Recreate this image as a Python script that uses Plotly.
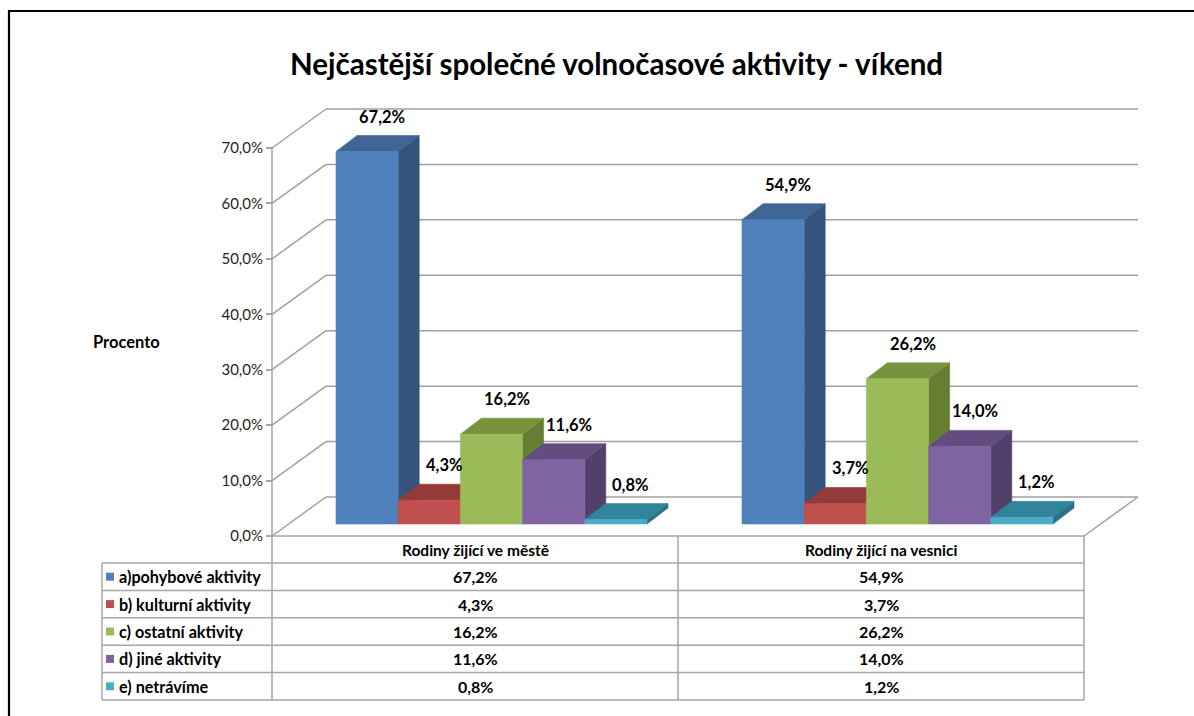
import plotly.graph_objects as go

# ---------------- data ----------------
title = "Nejčastější společné volnočasové aktivity - víkend"
categories = ["Rodiny žijící ve městě", "Rodiny žijící na vesnici"]
series_names = ["a)pohybové aktivity", "b) kulturní aktivity", "c) ostatní aktivity",
                "d) jiné aktivity", "e) netrávíme"]
city_values = [67.2, 4.3, 16.2, 11.6, 0.8]
village_values = [54.9, 3.7, 26.2, 14.0, 1.2]
y_ticks = [0, 10, 20, 30, 40, 50, 60, 70]
y_axis_title = "Procento"

values_by_cat = [city_values, village_values]


def pct(x):
    return f"{x:.1f}%".replace(".", ",")


# ---------------- styles ----------------
front_colors = ["#4F81BD", "#C0504D", "#9BBB59", "#8064A2", "#4BACC6"]
top_colors = ["#3E6594", "#943A38", "#77933C", "#634C80", "#31849B"]
side_colors = ["#34547D", "#7E302E", "#657E33", "#52406B", "#2B7185"]
grid_color = "#A0A0A0"
table_color = "#A6A6A6"
FONT = "Lato"

W, H = 1194, 716
X0, CW = 272.0, 406.0      # pixel x of axis, pixels per category
Y0, S = 536.0, 5.543       # pixel y of 0 %, pixels per percent


def u(px):
    return (px - X0) / CW


def v(py):
    return (Y0 - py) / S


WU, WV = 54 / CW, 39 / S          # wall depth
FU, FV = 16 / CW, 12 / S          # bar front offset
DU, DV = 21 / CW, 16 / S          # bar depth
BW = 62.2 / CW                    # bar width
G0 = 48 / CW                      # gap before first bar

fig = go.Figure()
shapes = []
annotations = []


def line(x0, y0, x1, y1, color, width=1.0):
    shapes.append(dict(type="line", xref="x", yref="y", x0=x0, y0=y0, x1=x1, y1=y1,
                       line=dict(color=color, width=width), layer="below"))


# back wall gridlines + diagonals
n_cat = len(categories)
for t in y_ticks:
    line(0, t, WU, t + WV, grid_color, 1.5)
    line(WU, t + WV, n_cat + WU, t + WV, grid_color, 1.5)
# floor right edge
line(n_cat, 0, n_cat + WU, WV, grid_color, 1.5)

# table geometry
row_edges_px = [563, 590.4, 617.8, 645.2, 672.6, 700]
leg_left = u(102)
table_bottom = v(row_edges_px[-1])
line(0, 0, n_cat, 0, table_color, 1.5)
line(0, table_bottom, 0, max(y_ticks), table_color, 1.5)
for i in range(1, n_cat + 1):
    line(i, 0, i, table_bottom, table_color, 1.5)
line(leg_left, v(row_edges_px[0]), leg_left, table_bottom, table_color, 1.5)
for py in row_edges_px:
    line(leg_left, v(py), n_cat, v(py), table_color, 1.5)


def poly(xs, ys, color):
    fig.add_trace(go.Scatter(x=xs + [xs[0]], y=ys + [ys[0]], mode="lines", fill="toself",
                             fillcolor=color, line=dict(color=color, width=0.6),
                             hoverinfo="skip", showlegend=False))


# bars
for i, vals in enumerate(values_by_cat):
    for j, val in enumerate(vals):
        L = i + FU + G0 + j * BW
        R = L + BW
        b = FV
        t = FV + val
        poly([R, R + DU, R + DU, R], [b, b + DV, t + DV, t], side_colors[j])
        poly([L, R, R + DU, L + DU], [t, t, t + DV, t + DV], top_colors[j])
        poly([L, R, R, L], [b, b, t, t], front_colors[j])
        annotations.append(dict(
            x=L + BW / 2 + 15 / CW, y=t + DV + 19 / S, xref="x", yref="y",
            text=pct(val), showarrow=False,
            font=dict(family=FONT, size=16.5, color="#000000", weight="bold"),
            xanchor="center", yanchor="middle"))

# table header
for i, cat in enumerate(categories):
    annotations.append(dict(x=i + 0.5, y=v((536 + row_edges_px[0]) / 2), xref="x", yref="y",
                            text=cat, showarrow=False,
                            font=dict(family=FONT, size=15.5, color="#000000", weight="bold"),
                            xanchor="center", yanchor="middle"))

# table rows
for j, name in enumerate(series_names):
    yc = v((row_edges_px[j] + row_edges_px[j + 1]) / 2)
    shapes.append(dict(type="rect", xref="x", yref="y",
                       x0=u(106), x1=u(114), y0=yc - 4 / S, y1=yc + 4 / S,
                       fillcolor=front_colors[j], line=dict(width=0)))
    annotations.append(dict(x=u(117), y=yc, xref="x", yref="y", text=name, showarrow=False,
                            font=dict(family=FONT, size=16.2, color="#000000", weight="bold"),
                            xanchor="left", yanchor="middle"))
    for i, vals in enumerate(values_by_cat):
        annotations.append(dict(x=i + 0.5, y=yc, xref="x", yref="y",
                                text=pct(vals[j]), showarrow=False,
                                font=dict(family=FONT, size=16, color="#000000", weight="bold"),
                                xanchor="center", yanchor="middle"))

# title and axis title
annotations.append(dict(x=616 / W, y=1 - 63 / H, xref="paper", yref="paper", text=title,
                        showarrow=False,
                        font=dict(family=FONT, size=29.5, color="#000000", weight="bold"),
                        xanchor="center", yanchor="middle"))
annotations.append(dict(x=127 / W, y=1 - 342 / H, xref="paper", yref="paper", text=y_axis_title,
                        showarrow=False,
                        font=dict(family=FONT, size=16.5, color="#000000", weight="bold"),
                        xanchor="center", yanchor="middle"))

# outer frame
shapes.append(dict(type="rect", xref="paper", yref="paper", x0=9 / W, x1=1.05,
                   y0=-0.05, y1=1 - 11 / H, line=dict(color="#000000", width=2.2),
                   fillcolor="rgba(0,0,0,0)", layer="above"))

fig.update_layout(
    width=W, height=H, autosize=False,
    margin=dict(l=0, r=0, t=0, b=0),
    paper_bgcolor="white", plot_bgcolor="white",
    separators=", ",
    showlegend=False,
    hovermode=False,
    xaxis=dict(range=[u(0), u(W)], visible=False, fixedrange=True),
    yaxis=dict(range=[v(H), v(0)], anchor="free", position=X0 / W, side="left",
               showgrid=False, zeroline=False, showline=False,
               tickvals=y_ticks, ticktext=[pct(t) for t in y_ticks],
               ticks="outside", ticklen=6, tickcolor=table_color, tickwidth=1.5,
               tickfont=dict(family=FONT, size=15, color="#1F1F1F"), fixedrange=True),
    shapes=shapes,
    annotations=annotations,
)

fig.write_html("out.html", config={"displayModeBar": False},
               post_script="document.body.style.margin='0';document.body.style.overflow='hidden';")
